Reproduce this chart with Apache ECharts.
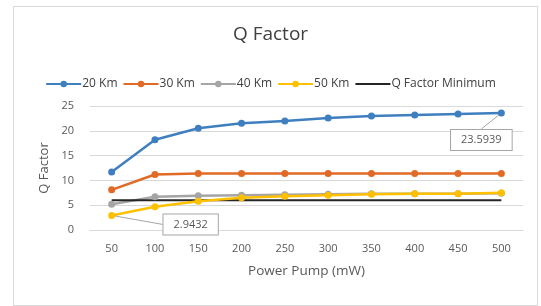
<!DOCTYPE html>
<html>
<head>
<meta charset="utf-8">
<script src="https://cdn.jsdelivr.net/npm/echarts@6/dist/echarts.min.js"></script>
<style>
	html, body { margin: 0; padding: 0; background: #fff; }
	#frame { position: absolute; left: 13px; top: 6px; width: 523px; height: 298px; border: 1px solid #d9d9d9; }
	#chart { position: absolute; left: 0; top: 0; width: 541px; height: 306px; }
</style>
</head>
<body>
<div id="frame"></div>
<div id="chart"></div>
<script>
	// data
	var powerPump = ['50', '100', '150', '200', '250', '300', '350', '400', '450', '500'];
	var km20 = [11.7, 18.2, 20.5, 21.5, 22.0, 22.6, 23.0, 23.2, 23.4, 23.5939];
	var km30 = [8.1, 11.2, 11.4, 11.4, 11.4, 11.4, 11.4, 11.4, 11.4, 11.4];
	var km40 = [5.2, 6.7, 6.9, 7.0, 7.1, 7.2, 7.3, 7.3, 7.3, 7.4];
	var km50 = [2.9432, 4.7, 5.8, 6.5, 6.8, 7.0, 7.2, 7.3, 7.3, 7.5];
	var qMin = [6, 6, 6, 6, 6, 6, 6, 6, 6, 6];
	var yTicks = [0, 5, 10, 15, 20, 25];

	var textColor = '#595959';
	var font = 'Open Sans';

	let chart = echarts.init(document.getElementById('chart'));

	let boxLabel = {
		show: true,
		position: 'inside',
		color: textColor,
		fontFamily: font,
		fontSize: 11,
		backgroundColor: '#fff',
		borderColor: '#a6a6a6',
		borderWidth: 1,
		padding: [5, 10, 4, 10],
		formatter: function (p) { return p.value; }
	};

	// put a boxed label on just one point of a series
	function withLabel(arr, idx) {
		return arr.map(function (v, i) {
			if (i !== idx) return v;
			return { value: v, label: boxLabel, labelLine: { show: true, lineStyle: { color: '#a6a6a6', width: 1 } } };
		});
	}

	function lineSeries(name, color, data) {
		return {
			name: name,
			type: 'line',
			data: data,
			symbol: 'circle',
			symbolSize: 7,
			lineStyle: { color: color, width: 2.5 },
			itemStyle: { color: color },
			label: { show: false },
			emphasis: { disabled: true }
		};
	}

	let s20 = lineSeries('20 Km', '#3f7fc0', withLabel(km20, 9));
	s20.labelLayout = function (p) {
		if (p.dataIndex !== 9) return {};
		return { dx: -20, dy: 27 };
	};
	let s50 = lineSeries('50 Km', '#ffc000', withLabel(km50, 0));
	s50.labelLayout = function (p) {
		if (p.dataIndex !== 0) return {};
		return { dx: 79, dy: 9 };
	};

	let option = {
		animation: false,
		title: {
			text: 'Q Factor',
			left: 'center',
			top: 20,
			textStyle: { fontFamily: font, fontSize: 19, fontWeight: 'normal', color: '#404040' }
		},
		legend: {
			top: 73,
			left: 'center',
			itemWidth: 35,
			itemHeight: 8,
			itemGap: 5,
			textStyle: { fontFamily: font, fontSize: 12, color: '#404040', padding: [0, 0, 0, -4] },
			data: ['20 Km', '30 Km', '40 Km', '50 Km', { name: 'Q Factor Minimum', itemStyle: { opacity: 0 } }]
		},
		grid: { left: 90, right: 18, top: 106, bottom: 76 },
		xAxis: {
			type: 'category',
			data: powerPump,
			name: 'Power Pump (mW)',
			nameLocation: 'middle',
			nameGap: 34,
			nameTextStyle: { fontFamily: font, fontSize: 13.5, color: textColor },
			axisLine: { show: true, lineStyle: { color: '#d9d9d9' } },
			axisTick: { show: false },
			axisLabel: { fontFamily: font, fontSize: 11, color: textColor, margin: 13 }
		},
		yAxis: {
			type: 'value',
			min: yTicks[0],
			max: yTicks[yTicks.length - 1],
			interval: 5,
			name: 'Q Factor',
			nameLocation: 'middle',
			nameGap: 38,
			nameTextStyle: { fontFamily: font, fontSize: 13, color: textColor },
			axisLine: { show: false },
			axisTick: { show: false },
			axisLabel: { fontFamily: font, fontSize: 11, color: textColor, margin: 16 },
			splitLine: { lineStyle: { color: '#d9d9d9' } }
		},
		series: [
			s20,
			lineSeries('30 Km', '#e06a26', km30),
			lineSeries('40 Km', '#a5a5a5', km40),
			{
				name: 'Q Factor Minimum',
				type: 'line',
				data: qMin,
				symbol: 'none',
				lineStyle: { color: '#262626', width: 2 },
				itemStyle: { color: '#262626' },
				emphasis: { disabled: true }
			},
			s50
		]
	};

	chart.setOption(option);
</script>
</body>
</html>
